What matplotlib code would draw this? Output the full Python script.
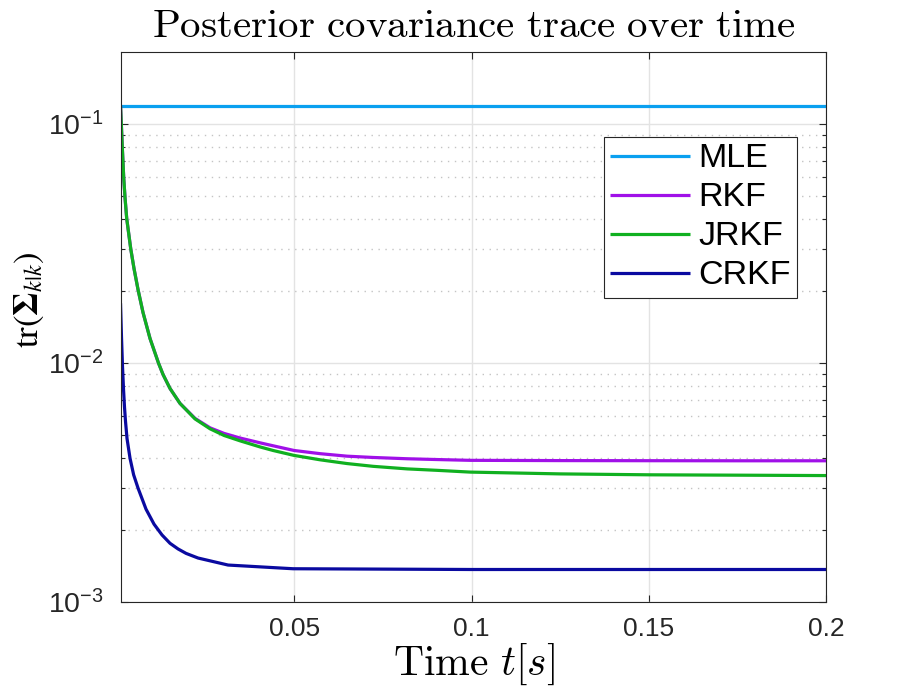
import numpy as np
import matplotlib.pyplot as plt
from matplotlib.ticker import FixedLocator, NullLocator

plt.rcParams['font.family'] = ['Liberation Sans', 'DejaVu Sans']
plt.rcParams['mathtext.fontset'] = 'custom'
plt.rcParams['mathtext.rm'] = 'Liberation Sans'
plt.rcParams['mathtext.it'] = 'Liberation Sans:italic'
plt.rcParams['mathtext.bf'] = 'Liberation Sans:bold'
plt.rcParams['axes.unicode_minus'] = False

# values
t_mle = [0.001, 0.2]
mle = [0.1191, 0.1191]

t_jrkf = [0.001, 0.001226, 0.001508, 0.001903, 0.002269, 0.002749, 0.003877, 0.004808,
          0.005937, 0.007347, 0.009322, 0.01172, 0.01299, 0.01496, 0.01778, 0.02202,
          0.02625, 0.0302, 0.03471, 0.04035, 0.04402, 0.04994, 0.05728, 0.06489,
          0.07223, 0.08182, 0.09028, 0.09959, 0.125, 0.1501, 0.1749, 0.2]
jrkf = [0.1191, 0.1002, 0.0796, 0.0596, 0.0492, 0.0402, 0.0301, 0.02484,
        0.0203, 0.01627, 0.01267, 0.00999, 0.00896, 0.00783, 0.00678, 0.00584,
        0.00531, 0.00498, 0.00473, 0.00446, 0.00431, 0.00411, 0.00394, 0.0038,
        0.0037, 0.00361, 0.00356, 0.0035, 0.00344, 0.00341, 0.003398, 0.003385]

t_rkf = [0.001, 0.001226, 0.001508, 0.001903, 0.002269, 0.002749, 0.003877, 0.004808,
         0.005937, 0.007347, 0.009322, 0.01172, 0.01299, 0.01496, 0.01778, 0.02202,
         0.02625, 0.0302, 0.03471, 0.04035, 0.04402, 0.04994, 0.05728, 0.06489,
         0.07223, 0.08182, 0.09028, 0.09959, 0.125, 0.1501, 0.1749, 0.2]
rkf = [0.1191, 0.1002, 0.0796, 0.0596, 0.0492, 0.0402, 0.0301, 0.02484,
       0.0203, 0.01627, 0.01267, 0.00999, 0.00896, 0.00783, 0.00678, 0.00587,
       0.00536, 0.00508, 0.00486, 0.00464, 0.00451, 0.00431, 0.00418, 0.00408,
       0.00403, 0.00398, 0.00395, 0.00392, 0.00391, 0.003906, 0.003903, 0.003903]

t_crkf = [0.001, 0.00128, 0.00156, 0.00185, 0.00213, 0.00241, 0.00283, 0.00368, 0.0047,
          0.00594, 0.00819, 0.01045, 0.01271, 0.01496, 0.01722, 0.01948, 0.02286, 0.03133,
          0.04966, 0.1, 0.15, 0.2]
crkf = [0.0178, 0.01279, 0.00968, 0.00776, 0.00652, 0.0057, 0.00484, 0.0040, 0.00341,
        0.0030, 0.00245, 0.00212, 0.00191, 0.001763, 0.00167, 0.0016, 0.00153, 0.00143,
        0.00138, 0.00137, 0.00137, 0.00137]

fig = plt.figure(figsize=(9.13, 6.89), dpi=100)
ax = fig.add_axes([0.132, 0.126, 0.773, 0.7985])

style = dict(lw=2.3, solid_joinstyle='round', solid_capstyle='butt')
ax.plot(t_mle, mle, color='#0aa0f0', label='MLE', **style)
ax.plot(t_rkf, rkf, color='#a010e8', label='RKF', **style)
ax.plot(t_jrkf, jrkf, color='#10b020', label='JRKF', **style)
ax.plot(t_crkf, crkf, color='#0a0aa0', label='CRKF', **style)

ax.set_yscale('log')
ax.set_xlim(0.001, 0.2)
ax.set_ylim(1e-3, 0.2)
ax.xaxis.set_major_locator(FixedLocator([0.05, 0.1, 0.15, 0.2]))
ax.xaxis.set_minor_locator(NullLocator())
ax.set_xticklabels(['0.05', '0.1', '0.15', '0.2'])
ax.yaxis.set_major_locator(FixedLocator([1e-3, 1e-2, 1e-1]))
minors = [m * 10.0 ** e for e in (-3, -2, -1) for m in range(2, 10) if m * 10.0 ** e < 0.2]
ax.yaxis.set_minor_locator(FixedLocator(minors))
ax.set_yticklabels([r'$10^{-3}$', r'$10^{-2}$', r'$10^{-1}$'])

ax.grid(True, which='major', color='#e3e3e3', lw=1.0, ls='-')
ax.grid(True, which='minor', axis='y', color='#c4c4c4', lw=1.0, ls=(0, (1, 4)))
ax.set_axisbelow(True)

ax.tick_params(which='both', direction='in', top=True, right=True, colors='#262626',
               labelsize=19, width=0.8)
ax.tick_params(which='major', length=5)
ax.tick_params(which='minor', length=3)
ax.tick_params(axis='x', pad=11)
ax.tick_params(axis='y', pad=12, labelsize=20.5)
for s in ax.spines.values():
    s.set_color('#262626')
    s.set_linewidth(0.8)

ax.set_title(r'$\mathrm{Posterior\ covariance\ trace\ over\ time}$', fontsize=29.5,
             math_fontfamily='cm', pad=11)
ax.set_xlabel(r'$\mathrm{Time}\ t[s]$', fontsize=30, math_fontfamily='cm', labelpad=0)
ax.set_ylabel(r'$\mathrm{tr}(\mathbf{\Sigma}_{k|k})$', fontsize=25, math_fontfamily='stix')
ax.yaxis.set_label_coords(-0.106, 0.55)

leg = ax.legend(loc='upper right', bbox_to_anchor=(0.959, 0.845), fontsize=24.5,
                frameon=True, fancybox=False, edgecolor='#262626', framealpha=1,
                handlelength=2.35, handletextpad=0.25, labelspacing=0.235, borderpad=0.18,
                borderaxespad=0)
leg.get_frame().set_linewidth(0.8)

plt.savefig('out.png', dpi=100)
